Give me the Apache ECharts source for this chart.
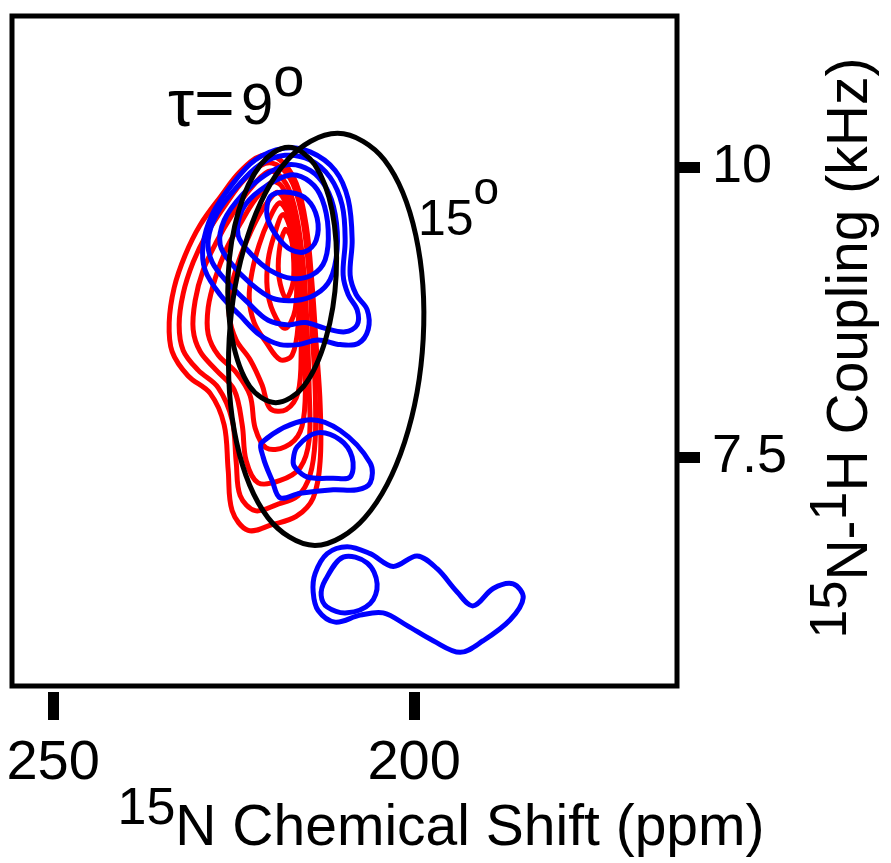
<!DOCTYPE html>
<html>
<head>
<meta charset="utf-8">
<script src="https://cdn.jsdelivr.net/npm/echarts@6/dist/echarts.min.js"></script>
<style>
  html, body { margin: 0; padding: 0; background: #fff; }
  #chart { width: 891px; height: 863px; }
</style>
</head>
<body>
<div id="chart"></div>
<script>
// axis ranges and tick labels
var xMin = 163.6, xMax = 255.7;      // 15N chemical shift (ppm), reversed axis
var yMin = 5.53, yMax = 11.3;        // 15N-1H coupling (kHz)
var xTicks = [200, 250];
var yTicks = [7.5, 10];

// red spectrum contours, outer to inner, [ppm, kHz]
var redContours = [
  [[221.05,10.10],[224.10,9.96],[226.87,9.74],[229.64,9.50],[231.72,9.24],[233.24,8.96],[233.93,8.66],[233.52,8.41],
   [231.30,8.20],[228.25,8.05],[226.32,7.78],[225.76,7.39],[225.21,7.04],[222.99,6.87],[219.67,6.92],[216.34,6.99],
   [213.99,7.15],[213.02,7.47],[213.02,7.95],[213.57,8.47],[214.13,8.98],[214.96,9.50],[216.34,9.86],[218.56,10.06]],
  [[220.64,10.03],[223.55,9.89],[226.18,9.67],[228.67,9.43],[230.61,9.18],[231.99,8.91],[232.55,8.64],[231.99,8.42],
   [229.92,8.25],[227.15,8.10],[225.21,7.82],[224.65,7.46],[224.10,7.17],[222.02,7.04],[219.11,7.09],[216.07,7.17],
   [214.41,7.35],[213.71,7.65],[213.71,8.08],[214.13,8.60],[214.54,9.07],[215.38,9.53],[216.76,9.85],[218.56,10.00]],
  [[220.22,9.96],[222.85,9.80],[225.21,9.59],[227.42,9.35],[229.23,9.11],[230.33,8.85],[230.61,8.60],[229.64,8.41],
   [227.42,8.25],[224.93,8.08],[223.82,7.78],[223.27,7.47],[221.61,7.28],[218.56,7.30],[215.79,7.41],[214.54,7.65],
   [214.54,8.08],[214.82,8.60],[215.24,9.07],[216.07,9.50],[217.17,9.78],[218.56,9.92]],
  [[219.67,9.87],[222.02,9.72],[224.10,9.51],[226.04,9.29],[227.56,9.04],[228.53,8.79],[228.53,8.56],[227.15,8.38],
   [224.65,8.23],[222.72,8.03],[222.02,7.75],[220.50,7.58],[217.87,7.59],[215.79,7.72],[215.10,7.99],[215.24,8.51],
   [215.52,8.98],[216.34,9.41],[217.32,9.69],[218.42,9.84]],
  [[219.11,9.78],[221.05,9.63],[222.72,9.43],[224.24,9.20],[225.35,8.96],[225.62,8.72],[224.65,8.51],[222.72,8.34],
   [221.05,8.12],[219.95,7.92],[217.73,7.91],[216.07,8.06],[215.65,8.42],[215.79,8.90],[216.48,9.33],[217.45,9.63],
   [218.28,9.75]],
  [[218.70,9.69],[220.22,9.53],[221.47,9.33],[222.44,9.10],[222.85,8.87],[222.16,8.66],[220.50,8.49],[218.56,8.34],
   [216.90,8.38],[216.07,8.64],[216.07,9.03],[216.62,9.37],[217.59,9.61]],
  [[218.14,9.59],[219.39,9.41],[220.22,9.20],[220.36,8.96],[219.53,8.75],[217.87,8.61],[216.48,8.77],[216.34,9.13],
   [216.90,9.41]],
  [[217.87,9.46],[218.70,9.27],[218.70,9.04],[217.73,8.87],[216.76,9.01],[216.76,9.27],[217.17,9.41]]
];

// blue spectrum contours, [ppm, kHz]
var blueContours = [
  // upper peak, outer to inner
  [[218.14,10.16],[214.41,10.13],[210.94,9.97],[209.14,9.72],[208.59,9.37],[208.87,9.07],[208.03,8.90],[206.51,8.77],
   [206.37,8.60],[207.76,8.48],[210.25,8.47],[213.30,8.51],[216.07,8.47],[218.56,8.47],[221.33,8.55],[224.10,8.72],
   [226.87,8.90],[228.95,9.11],[229.23,9.33],[227.98,9.59],[225.21,9.85],[222.02,10.06]],
  [[217.87,10.10],[214.41,10.06],[211.64,9.91],[209.97,9.67],[209.56,9.37],[209.84,9.07],[209.14,8.90],[207.90,8.77],
   [207.90,8.64],[209.56,8.58],[212.33,8.61],[215.10,8.66],[217.45,8.64],[220.22,8.68],[222.99,8.83],[225.76,9.00],
   [227.98,9.18],[228.53,9.37],[227.29,9.60],[224.52,9.83],[221.33,10.02]],
  [[217.45,10.02],[214.41,9.97],[212.19,9.82],[210.94,9.59],[210.67,9.29],[211.64,9.03],[213.71,8.90],[216.48,8.85],
   [219.67,8.87],[222.72,9.00],[225.21,9.16],[226.87,9.33],[226.32,9.54],[223.82,9.76],[220.64,9.93]],
  [[217.17,9.93],[214.41,9.87],[212.74,9.72],[211.91,9.46],[212.33,9.20],[214.13,9.07],[216.90,9.04],[219.95,9.11],
   [222.44,9.24],[224.38,9.41],[223.82,9.63],[221.33,9.80]],
  [[219.67,9.76],[217.17,9.78],[214.82,9.72],[213.44,9.56],[213.57,9.37],[215.10,9.27],[217.17,9.29],[218.84,9.39],
   [220.22,9.54],[220.36,9.67]],
  // middle peak near 7.5 kHz
  [[221.05,7.63],[214.82,7.82],[210.25,7.73],[206.09,7.45],[206.09,7.28],[207.90,7.22],[211.22,7.22],[215.79,7.19],
   [218.56,7.15],[219.67,7.30],[220.91,7.50]],
  [[216.21,7.59],[213.44,7.71],[210.25,7.65],[208.59,7.50],[208.87,7.33],[211.22,7.32],[214.82,7.33],[216.48,7.41],
   [216.76,7.47]],
  // lower peaks
  [[213.71,6.50],[212.05,6.67],[209.28,6.73],[206.09,6.67],[202.91,6.56],[199.59,6.65],[196.82,6.54],[194.05,6.34],
   [191.83,6.22],[189.06,6.37],[186.29,6.41],[184.90,6.29],[186.70,6.10],[190.44,5.92],[193.63,5.82],[197.37,5.92],
   [200.97,6.05],[204.29,6.16],[207.48,6.14],[210.94,6.08],[213.30,6.18],[213.99,6.34]],
  [[212.33,6.44],[209.84,6.64],[206.51,6.59],[205.13,6.41],[206.09,6.24],[209.28,6.16],[212.05,6.21],[212.88,6.31]]
];

// PISA wheels for tilt angles 9 and 15 degrees, [ppm, kHz]
var wheel9 = [[210.80,9.07],[211.36,9.62],[213.78,10.02],[217.40,10.17],[221.26,10.02],[224.32,9.62],
              [225.76,9.07],[225.21,8.52],[222.78,8.11],[219.17,7.97],[215.31,8.11],[212.24,8.52]];
var wheel15 = [[198.75,8.52],[199.77,9.41],[204.11,10.06],[210.62,10.29],[217.55,10.06],[223.03,9.41],
               [225.62,8.52],[224.60,7.63],[220.26,6.98],[213.75,6.74],[206.83,6.98],[201.33,7.63]];

var FONT = "'Liberation Sans', Arial, Helvetica, sans-serif";

// one custom series draws a set of closed, smoothed contour lines
function contourSeries(name, contours, color, width) {
    return {
        name: name,
        type: 'custom',
        coordinateSystem: 'cartesian2d',
        silent: true,
        data: contours.map(function (c, i) { return [c[0][0], c[0][1], i]; }),
        encode: { x: 0, y: 1 },
        renderItem: function (params, api) {
            var pts = contours[params.dataIndex].map(function (p) { return api.coord(p); });
            return {
                type: 'polygon',
                shape: { points: pts, smooth: 0.35 },
                style: { fill: 'none', stroke: color, lineWidth: width }
            };
        }
    };
}

var chart = echarts.init(document.getElementById('chart'));

var option = {
    animation: false,
    backgroundColor: '#fff',
    grid: {
        show: true, left: 12, right: 214, top: 16, bottom: 177,
        borderColor: '#000', borderWidth: 5
    },
    xAxis: {
        type: 'value', inverse: true, min: xMin, max: xMax,
        offset: 6,
        axisLine: { show: false },
        splitLine: { show: false },
        axisTick: { show: true, length: 28, customValues: xTicks, lineStyle: { color: '#000', width: 11 } },
        axisLabel: { customValues: xTicks, margin: 44, color: '#000', fontSize: 56, fontFamily: FONT }
    },
    yAxis: {
        type: 'value', position: 'right', min: yMin, max: yMax,
        axisLine: { show: false },
        splitLine: { show: false },
        axisTick: { show: true, length: 23, customValues: yTicks, lineStyle: { color: '#000', width: 11 } },
        axisLabel: { customValues: yTicks, margin: 35, color: '#000', fontSize: 54, fontFamily: FONT }
    },
    series: [
        contourSeries('red', redContours, '#ff0000', 5),
        contourSeries('blue', blueContours, '#0000ff', 5),
        contourSeries('9', [wheel9], '#000', 5),
        contourSeries('15', [wheel15], '#000', 5)
    ],
    graphic: [
        {
            type: 'text', x: 168, y: 108, silent: true,
            style: {
                text: '{t|τ}{e|=}{m|9}{s|o}', align: 'left', verticalAlign: 'middle',
                rich: {
                    t: { fontSize: 66, fontFamily: FONT, fill: '#000', lineHeight: 94, verticalAlign: 'middle' },
                    e: { fontSize: 70, fontFamily: FONT, fill: '#000', lineHeight: 94, verticalAlign: 'middle', padding: [0, 6, 0, 0] },
                    m: { fontSize: 58, fontFamily: FONT, fill: '#000', lineHeight: 94, verticalAlign: 'middle' },
                    s: { fontSize: 56, fontFamily: FONT, fill: '#000', height: 40, verticalAlign: 'top' }
                }
            }
        },
        {
            type: 'text', x: 418, y: 221, silent: true,
            style: {
                text: '{m|15}{s|o}', align: 'left', verticalAlign: 'middle',
                rich: {
                    m: { fontSize: 50, fontFamily: FONT, fill: '#000', lineHeight: 100, verticalAlign: 'middle' },
                    s: { fontSize: 46, fontFamily: FONT, fill: '#000', height: 40, verticalAlign: 'top' }
                }
            }
        },
        {
            type: 'text', x: 441, y: 829, silent: true,
            style: {
                text: '{s|15}{m|N Chemical Shift (ppm)}', align: 'center', verticalAlign: 'middle',
                rich: {
                    m: { fontSize: 57, fontFamily: FONT, fill: '#000', lineHeight: 79, verticalAlign: 'middle' },
                    s: { fontSize: 52, fontFamily: FONT, fill: '#000', height: 40, verticalAlign: 'top' }
                }
            }
        },
        {
            type: 'text', x: 851, y: 348, rotation: Math.PI / 2, silent: true,
            style: {
                text: '{s|15}{m|N-}{s|1}{m|H Coupling (kHz)}', align: 'center', verticalAlign: 'middle',
                rich: {
                    m: { fontSize: 57, fontFamily: FONT, fill: '#000', lineHeight: 79, verticalAlign: 'middle' },
                    s: { fontSize: 52, fontFamily: FONT, fill: '#000', height: 40, verticalAlign: 'top' }
                }
            }
        }
    ]
};

chart.setOption(option);
</script>
</body>
</html>
